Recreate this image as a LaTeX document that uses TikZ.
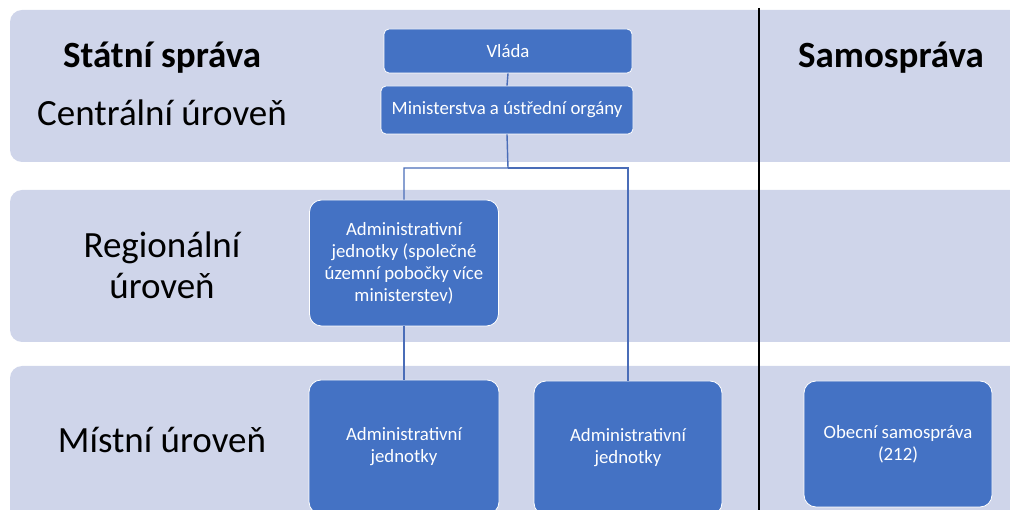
\documentclass[tikz,border=0pt]{standalone}
\usepackage{fontspec}
\setmainfont{Carlito}
\begin{document}
\begin{tikzpicture}[x=1pt,y=-1pt,
  band/.style={fill=bandfill, draw=none, rounded corners=12pt},
  unit/.style={fill=unitblue, draw=white, line width=0.8pt, rounded corners=#1,
    text=white, align=center, font=\fontsize{18.8}{22}\selectfont, inner sep=0pt},
  unit/.default=5pt,
  link/.style={draw=linkblue, line width=1.4pt},
  level/.style={align=center, font=\fontsize{37}{41}\selectfont, inner sep=0pt},
  head/.style={font=\fontsize{37}{41}\selectfont\bfseries, inner sep=0pt}]
\definecolor{bandfill}{HTML}{CFD5EA}
\definecolor{unitblue}{HTML}{4472C4}
\definecolor{linkblue}{HTML}{4A6DB8}
\useasboundingbox (0,0) rectangle (1010,510);

% horizontal level bands
\fill[band] (10,10) rectangle (1030,162);
\fill[band] (10,190) rectangle (1030,342);
\fill[band] (10,366) rectangle (1030,540);

% divider between state administration and self-government
\draw[line width=1.2pt, black] (759,8) -- (759,512);

% column and level titles
\node[head] (state) at (162,58) {Státní správa};
\node[head] (self) at (891,58) {Samospráva};
\node[level] (central) at (162,113) {Centrální úroveň};
\node[level] (regional) at (162,265) {Regionální\\úroveň};
\node[level] (local) at (162,440) {Místní úroveň};

% branching points of the connectors
\coordinate (split) at (508,168);
\coordinate (splitL) at (404,168);
\coordinate (splitR) at (628,168);

% organisational units
\node[unit, minimum width=248pt, minimum height=44pt] (vlada) at (508,51) {Vláda};
\node[unit, minimum width=252pt, minimum height=48pt] (min) at (507,110) {Ministerstva a ústřední orgány};
\node[unit=12pt, minimum width=189pt, minimum height=126pt] (reg) at (404,263) {Administrativní\\jednotky (společné\\územní pobočky více\\ministerstev)};
\node[unit=12pt, minimum width=190pt, minimum height=134pt] (loc1) at (404,447) {Administrativní\\jednotky};
\node[unit=12pt, minimum width=188pt, minimum height=134pt] (loc2) at (628,448) {Administrativní\\jednotky};
\node[unit=12pt, minimum width=188pt, minimum height=126pt] (obec) at (898,444) {Obecní samospráva\\(212)};

% connectors
\draw[link] (vlada.south) -- (min.north);
\draw[link] (min.south) -- (split) -- (splitL) -- (reg.north);
\draw[link] (split) -- (splitR) -- (loc2.north);
\draw[link] (reg.south) -- (loc1.north);
\end{tikzpicture}
\end{document}
